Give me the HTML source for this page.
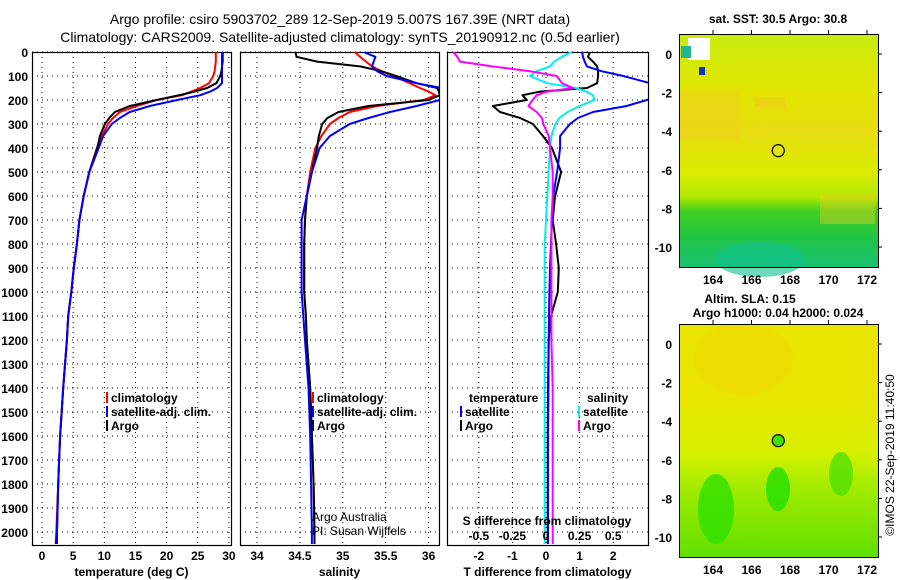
<!DOCTYPE html>
<html><head><meta charset="utf-8"><style>
html,body{margin:0;padding:0;background:#fff}
svg{display:block;font-family:"Liberation Sans",sans-serif}
.tk{font-size:12px;font-weight:bold}
</style></head><body>
<svg id="c" width="900" height="580" viewBox="0 0 900 580">
<defs>
<clipPath id="cp1"><rect x="32" y="52" width="199" height="493"/></clipPath>
<clipPath id="cp2"><rect x="240" y="52" width="199" height="493"/></clipPath>
<clipPath id="cp3"><rect x="447" y="52" width="201" height="493"/></clipPath>
<linearGradient id="g1" x1="0" y1="0" x2="0" y2="1">
<stop offset="0" stop-color="#c8ec10"/><stop offset="0.25" stop-color="#e2e400"/><stop offset="0.42" stop-color="#e8dc10"/><stop offset="0.6" stop-color="#d8ec00"/><stop offset="0.7" stop-color="#b0e800"/><stop offset="0.76" stop-color="#40d020"/><stop offset="0.88" stop-color="#20c448"/><stop offset="1" stop-color="#18c070"/></linearGradient>
<linearGradient id="g2" x1="0" y1="0" x2="0" y2="1">
<stop offset="0" stop-color="#e8e400"/><stop offset="0.3" stop-color="#e8e400"/><stop offset="0.55" stop-color="#d8f000"/><stop offset="0.68" stop-color="#a8ec00"/><stop offset="1" stop-color="#60e000"/></linearGradient>
</defs>
<g id="plots"></g>
</svg>
<script>
const depths=[0,20,40,60,80,100,130,150,165,180,200,225,250,275,300,350,400,500,600,700,800,900,1000,1100,1200,1400,1600,1800,2000,2050];
const tempArgo=[29.0,29.0,29.0,28.9,28.8,28.6,28.0,26.5,24.5,22.0,18.4,14.1,11.7,10.8,10.1,9.3,8.9,7.6,6.7,6.0,5.6,5.1,4.7,4.2,4.0,3.4,2.9,2.6,2.4,2.3];
const tempClim=[27.9,27.9,27.9,27.8,27.7,27.5,26.8,25.4,24.0,22.5,18.4,15.2,12.5,11.4,10.6,9.6,8.8,7.6,6.7,6.0,5.6,5.1,4.7,4.2,4.0,3.4,2.9,2.6,2.3,2.2];
const tempSat=[28.9,28.9,28.9,28.9,28.9,28.9,28.9,28.1,27.0,25.4,21.7,17.3,14.1,12.5,11.2,9.8,9.1,7.6,6.7,6.0,5.6,5.1,4.7,4.2,4.0,3.4,2.9,2.6,2.4,2.4];
const salArgo=[34.45,34.46,34.7,35.2,35.45,35.62,35.86,36.1,36.12,36.13,36.0,35.3,34.95,34.82,34.76,34.72,34.70,34.64,34.58,34.56,34.55,34.55,34.55,34.57,34.58,34.62,34.64,34.66,34.67,34.67];
const salClim=[35.14,35.2,35.27,35.34,35.45,35.59,35.78,35.9,36.0,36.08,35.94,35.4,35.08,34.95,34.85,34.75,34.68,34.62,34.58,34.56,34.55,34.55,34.55,34.57,34.58,34.62,34.64,34.66,34.67,34.67];
const salSat=[35.24,35.38,35.36,35.34,35.4,35.51,35.86,36.15,36.2,36.2,36.13,35.86,35.55,35.3,35.08,34.85,34.73,34.64,34.58,34.52,34.52,34.52,34.52,34.54,34.56,34.6,34.62,34.63,34.64,34.64];
const dTArgo=[1.31,1.25,1.4,1.52,1.55,1.55,1.52,1.22,-0.18,-0.7,-0.57,-1.58,-1.37,-0.77,-0.39,-0.09,0.18,0.45,0.27,0.2,0.3,0.38,0.35,0.15,0.08,0.06,0.05,0.05,0.05,0.05];
const dTSat=[1.07,1.1,1.15,1.22,1.65,2.3,3.1,3.4,3.5,3.3,3.0,2.4,1.4,0.95,0.71,0.42,0.42,0.33,0.21,0.18,0.15,0.12,0.1,0.09,0.08,0.07,0.06,0.06,0.06,0.06];
const dSSat=[0.19,0.12,0.06,0.03,-0.07,-0.12,0.01,0.22,0.3,0.35,0.36,0.25,0.16,0.1,0.07,0.04,0.03,0.02,0.01,0.0,-0.01,-0.01,-0.01,-0.01,-0.01,-0.01,-0.01,-0.01,-0.01,-0.01];
const dSArgo=[-0.69,-0.66,-0.64,-0.4,-0.12,0.08,0.12,0.2,0.01,-0.07,-0.1,-0.13,-0.07,-0.03,-0.02,0.02,0.03,0.05,0.05,0.04,0.04,0.04,0.04,0.04,0.04,0.05,0.05,0.05,0.05,0.05];
const depthTicks=[0,100,200,300,400,500,600,700,800,900,1000,1100,1200,1300,1400,1500,1600,1700,1800,1900,2000];
const tempTicks=[0,5,10,15,20,25,30];
const salTicks=[34,34.5,35,35.5,36];
const salTickLabels=["34","34.5","35","35.5","36"];
const dTTicks=[-2,-1,0,1,2];
const dSTicks=[-0.5,-0.25,0,0.25,0.5];
const dSTickLabels=["-0.5","-0.25","0","0.25","0.5"];
const latTicks=[0,-2,-4,-6,-8,-10];
const lonTicks=[164,166,168,170,172];
const argoLon=167.39, argoLat=-5.007;

const NS="http://www.w3.org/2000/svg";
const root=document.getElementById('plots');
function mk(tag,attrs,parent,text){const e=document.createElementNS(NS,tag);for(const k in attrs)e.setAttribute(k,attrs[k]);if(text!==undefined)e.textContent=text;(parent||root).appendChild(e);return e;}
const yD=d=>52+d*0.24;
const xT=t=>42+t*6.23;
const xS=s=>257+(s-34)*85.8;
const xDT=t=>546+t*33.6;
const xDS=s=>546+s*134.4;

// titles
let t=mk('text',{x:340,y:24,'text-anchor':'middle','font-size':'14px'},root,'Argo profile: csiro 5903702_289 12-Sep-2019 5.007S 167.39E (NRT data)');


t=mk('text',{x:340,y:42,'text-anchor':'middle','font-size':'14px'},root,'Climatology: CARS2009. Satellite-adjusted climatology: synTS_20190912.nc (0.5d earlier)');



// depth tick labels
depthTicks.forEach(d=>{const e=mk('text',{x:28,y:yD(d)+5,'text-anchor':'end',class:'tk'},root,String(d));

});

function panel(name,x0,w,clip,ticks,labels,xf,gridTicks,title){
  const g=mk('g',{});
  
  
  depthTicks.forEach(d=>{const l=mk('line',{x1:x0,x2:x0+w,y1:yD(d),y2:yD(d),stroke:'#000','stroke-dasharray':'1,4','stroke-width':1},g);
  
  });
  gridTicks.forEach(v=>{const l=mk('line',{x1:xf(v),x2:xf(v),y1:52,y2:545,stroke:'#000','stroke-dasharray':'1,4','stroke-width':1},g);
  
  });
  ticks.forEach((v,i)=>{const e=mk('text',{x:xf(v),y:560,'text-anchor':'middle',class:'tk'},g,labels[i]);
  
  });
  const at=mk('text',{x:x0+w/2,y:576,'text-anchor':'middle',class:'tk'},g,title);
  
  
  const r=mk('rect',{x:x0+0.5,y:52.5,width:w,height:493,fill:'none',stroke:'#000','stroke-width':1.2},g);
  
  
  return mk('g',{'clip-path':'url(#'+clip+')'},g);
}
function line(g,vals,xf,color,name){
  const pts=vals.map((v,i)=>xf(v).toFixed(1)+','+yD(depths[i]).toFixed(1)).join(' ');
  const p=mk('polyline',{points:pts,fill:'none',stroke:color,'stroke-width':2,'stroke-linejoin':'round'},g);
  
  
}
const p1=panel('temperature-panel',32,199,'cp1',tempTicks,tempTicks.map(String),xT,tempTicks,'temperature (deg C)');
line(p1,tempClim,xT,'#f00','temp-climatology-line');
line(p1,tempArgo,xT,'#000','temp-argo-line');
line(p1,tempSat,xT,'#00f','temp-satellite-line');
const p2=panel('salinity-panel',240,199,'cp2',salTicks,salTickLabels,xS,salTicks,'salinity');
line(p2,salClim,xS,'#f00','sal-climatology-line');
line(p2,salArgo,xS,'#000','sal-argo-line');
line(p2,salSat,xS,'#00f','sal-satellite-line');
const p3=panel('difference-panel',447,201,'cp3',dTTicks,dTTicks.map(String),xDT,dTTicks,'T difference from climatology');
line(p3,dTArgo,xDT,'#000','tdiff-argo-line');
line(p3,dTSat,xDT,'#00f','tdiff-satellite-line');
line(p3,dSSat,xDS,'#0ee','sdiff-satellite-line');
line(p3,dSArgo,xDS,'#f0f','sdiff-argo-line');

// S axis inside diff panel
t=mk('text',{x:547,y:525,'text-anchor':'middle',class:'tk'},root,'S difference from climatology');


dSTicks.forEach((v,i)=>{const e=mk('text',{x:xDS(v),y:540,'text-anchor':'middle',class:'tk'},root,dSTickLabels[i]);

});

// legends
function legend(x,y,color,label,name){
  const g=mk('g',{});
  
  
  if(color) mk('rect',{x:x,y:y-10,width:2,height:11,fill:color},g);
  mk('text',{x:x+5,y:y,class:'tk'},g,label);
}
legend(106,402,'#f00','climatology','legend-climatology');
legend(106,416,'#00f','satellite-adj. clim.','legend-satellite-adj');
legend(106,430,'#000','Argo','legend-argo');
legend(312,402,'#f00','climatology','legend-sal-climatology');
legend(312,416,'#00f','satellite-adj. clim.','legend-sal-satellite-adj');
legend(312,430,'#000','Argo','legend-sal-argo');
legend(464,402,null,'temperature','legend-temperature-header');
legend(460,416,'#00f','satellite','legend-t-satellite');
legend(460,430,'#000','Argo','legend-t-argo');
legend(582,402,null,'salinity','legend-salinity-header');
legend(578,416,'#0ee','satellite','legend-s-satellite');
legend(578,430,'#f0f','Argo','legend-s-argo');

t=mk('text',{x:312,y:521,'font-size':'12px'},root,'Argo Australia');


t=mk('text',{x:312,y:535,'font-size':'12px'},root,'PI: Susan Wijffels');



// maps
function map(name,y0,grad,lat0y){
  const g=mk('g',{});
  
  
  mk('rect',{x:679,y:y0,width:199,height:233,fill:'url(#'+grad+')'},g);
  const xL=lon=>713+(lon-164)*19.25;
  const yL=lat=>lat0y-lat*19.3;
  if(grad==='g1'){
    mk('rect',{x:688,y:y0+4,width:22,height:22,fill:'#fff'},g);
    mk('rect',{x:681,y:y0+12,width:10,height:12,fill:'#20b890'},g);
    mk('rect',{x:699,y:y0+33,width:6,height:8,fill:'#1030c0'},g);
    mk('rect',{x:680,y:y0+56,width:60,height:50,fill:'#f0d020',opacity:0.5},g);
    mk('rect',{x:755,y:y0+63,width:30,height:10,fill:'#f0c820',opacity:0.5},g);
    mk('rect',{x:820,y:y0+160,width:55,height:30,fill:'#f0d020',opacity:0.4},g);
    mk('ellipse',{cx:760,cy:y0+225,rx:45,ry:18,fill:'#10c090',opacity:0.6},g);
  } else {
    mk('ellipse',{cx:743,cy:y0+35,rx:50,ry:35,fill:'#f0d800',opacity:0.6},g);
    mk('ellipse',{cx:716,cy:y0+185,rx:18,ry:35,fill:'#30e000',opacity:0.8},g);
    mk('ellipse',{cx:778,cy:y0+165,rx:12,ry:22,fill:'#20e000',opacity:0.8},g);
    mk('ellipse',{cx:841,cy:y0+150,rx:12,ry:22,fill:'#50e000',opacity:0.8},g);
  }
  mk('rect',{x:679.5,y:y0+0.5,width:199,height:233,fill:'none',stroke:'#000','stroke-width':1},g);
  latTicks.forEach(v=>{const e=mk('text',{x:672,y:yL(v)+5,'text-anchor':'end',class:'tk'},g,String(v));
  
  
  mk('line',{x1:878,x2:882,y1:yL(v),y2:yL(v),stroke:'#000'},g);});
  lonTicks.forEach(v=>{const e=mk('text',{x:xL(v),y:y0+250,'text-anchor':'middle',class:'tk'},g,String(v));
  
  
  mk('line',{x1:xL(v),x2:xL(v),y1:y0-4,y2:y0,stroke:'#000'},g);});
  const c=mk('circle',{cx:xL(argoLon),cy:yL(argoLat),r:6,fill:grad==='g1'?'none':'#40e000',stroke:'#000','stroke-width':1.2},g);
  
  
}
map('sst-map',34,'g1',54);
map('sla-map',324,'g2',344);
t=mk('text',{x:778,y:23,'text-anchor':'middle',class:'tk'},root,'sat. SST: 30.5 Argo: 30.8');


t=mk('text',{x:750,y:303,'text-anchor':'middle',class:'tk'},root,'Altim. SLA: 0.15');


t=mk('text',{x:778,y:317,'text-anchor':'middle',class:'tk'},root,'Argo h1000: 0.04 h2000: 0.024');


t=mk('text',{x:0,y:0,'text-anchor':'middle','font-size':'12px',transform:'translate(894,455) rotate(-90)'},root,'©IMOS 22-Sep-2019 11:40:50');


</script>
</body></html>
